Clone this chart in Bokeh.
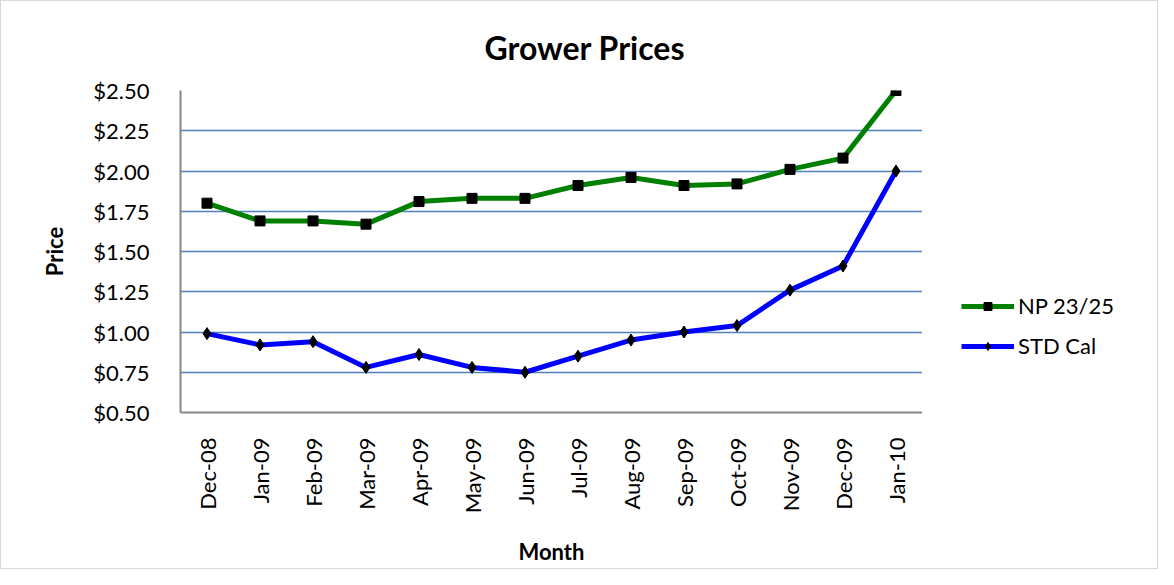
from bokeh.plotting import figure
from bokeh.layouts import row
from bokeh.models import (Range1d, FixedTicker, NumeralTickFormatter, Legend, LegendItem, Title)
from bokeh.embed import file_html
from bokeh.resources import INLINE
import math

months = ["Dec-08", "Jan-09", "Feb-09", "Mar-09", "Apr-09", "May-09", "Jun-09",
          "Jul-09", "Aug-09", "Sep-09", "Oct-09", "Nov-09", "Dec-09", "Jan-10"]
np_2325 = [1.80, 1.69, 1.69, 1.67, 1.81, 1.83, 1.83, 1.91, 1.96, 1.91, 1.92, 2.01, 2.08, 2.50]
std_cal = [0.99, 0.92, 0.94, 0.78, 0.86, 0.78, 0.75, 0.85, 0.95, 1.00, 1.04, 1.26, 1.41, 2.00]
y_ticks = [0.50, 0.75, 1.00, 1.25, 1.50, 1.75, 2.00, 2.25, 2.50]
series_names = ["NP 23/25", "STD Cal"]

FONT = "Lato"
GREEN = "#008000"
BLUE = "#0000FF"

p = figure(x_range=months, y_range=Range1d(0.5, 2.5), width=921, height=567,
           output_backend="svg", toolbar_location=None,
           min_border_left=179, min_border_right=0, min_border_top=89, min_border_bottom=154)
p.outline_line_color = None
p.title = None
p.add_layout(Title(text="Grower Prices", text_font=FONT, text_font_size="32px",
                   text_font_style="bold", text_color="#000000", align="left", offset=304,
                   standoff=48), "above")

p.x_range.range_padding = 0.0
p.xgrid.grid_line_color = None
p.ygrid.grid_line_color = "#4F81BD"
p.ygrid.grid_line_width = 1.5
p.yaxis.ticker = FixedTicker(ticks=y_ticks)
p.yaxis.formatter = NumeralTickFormatter(format="$0.00")

for ax in (p.xaxis, p.yaxis):
    ax.axis_line_color = "#868686"
    ax.axis_line_width = 2
    ax.major_tick_line_color = None
    ax.minor_tick_line_color = None
    ax.major_label_text_font = FONT
    ax.major_label_text_font_size = "22px"
    ax.major_label_text_color = "#000000"
    ax.axis_label_text_font = FONT
    ax.axis_label_text_font_size = "22px"
    ax.axis_label_text_font_style = "bold"
    ax.axis_label_text_color = "#000000"

p.yaxis.axis_label = "Price"
p.yaxis.major_label_standoff = 25
p.yaxis.axis_label_standoff = 22
p.xaxis.axis_label = "Month"
p.xaxis.major_label_orientation = math.pi / 2
p.xaxis.major_label_standoff = 19
p.xaxis.axis_label_standoff = 22

p.line(months, np_2325, line_color=GREEN, line_width=5)
p.scatter(months, np_2325, marker="square", size=10, fill_color="#000000", line_color="#000000")
p.line(months, std_cal, line_color=BLUE, line_width=5)
p.scatter(months, std_cal, marker="diamond", size=12, fill_color="#000000", line_color="#000000")

# legend panel: a separate figure so the legend is not clipped by the main frame.
# Its series renderers use the same data but fall outside its (empty) ranges.
q = figure(width=235, height=567, x_range=Range1d(10, 11), y_range=Range1d(10, 11),
           output_backend="svg", toolbar_location=None,
           min_border_left=0, min_border_right=0, min_border_bottom=154, min_border_top=89,
           outline_line_color=None)
q.axis.visible = False
q.grid.visible = False
ql1 = q.line(np_2325, np_2325, line_color=GREEN, line_width=5)
qs1 = q.scatter(np_2325, np_2325, marker="square", size=10, fill_color="#000000", line_color="#000000")
ql2 = q.line(std_cal, std_cal, line_color=BLUE, line_width=5)
qs2 = q.scatter(std_cal, std_cal, marker="diamond", size=12, fill_color="#000000", line_color="#000000")

legend = Legend(items=[LegendItem(label=series_names[0], renderers=[ql1, qs1]),
                       LegendItem(label=series_names[1], renderers=[ql2, qs2])],
                location=(39, 53), border_line_color=None, background_fill_alpha=0,
                label_text_font=FONT, label_text_font_size="22px", label_text_color="#000000",
                glyph_width=53, glyph_height=20, label_height=20, spacing=13,
                label_standoff=4, padding=10)
q.add_layout(legend, "center")

layout = row(p, q)
layout.styles = {"border": "1px solid #d9d9d9"}

open("out.html", "w").write(file_html(layout, INLINE))
